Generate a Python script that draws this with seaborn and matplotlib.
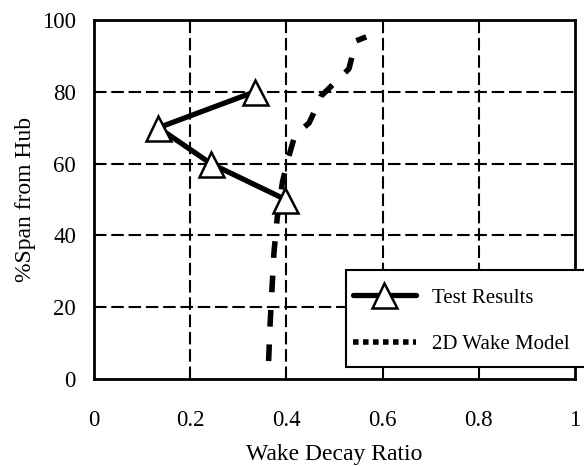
import matplotlib
matplotlib.use("Agg")
import matplotlib.pyplot as plt
import seaborn as sns
import pandas as pd
from matplotlib.lines import Line2D
from matplotlib.patches import Rectangle

# Data
test_x = [0.334, 0.134, 0.243, 0.398]
test_y = [80, 70, 60, 50]
model_x = [0.363, 0.366, 0.370, 0.374, 0.381, 0.392, 0.405, 0.418, 0.447, 0.460, 0.472, 0.530, 0.545, 0.566]
model_y = [5, 15, 25, 35, 45, 55, 62, 68, 71.3, 75, 78.8, 86.4, 94.2, 95.3]
xticks = [0, 0.2, 0.4, 0.6, 0.8, 1]
xticklabels = ["0", "0.2", "0.4", "0.6", "0.8", "1"]
yticks = [0, 20, 40, 60, 80, 100]
labels = ["Test Results", "2D Wake Model"]

sns.set_theme(style="white")
plt.rcParams['font.family'] = ['Liberation Serif', 'DejaVu Serif']

W, H = 584, 466
fig = plt.figure(figsize=(W/100, H/100), dpi=100)
ax = fig.add_axes([94/W, 1-379/H, (575-94)/W, (379-20)/H])

df_t = pd.DataFrame({"x": test_x, "y": test_y})
df_m = pd.DataFrame({"x": model_x, "y": model_y})

sns.lineplot(data=df_m, x="x", y="y", sort=False, ax=ax, color="black",
             lw=4, estimator=None, zorder=3)
ax.lines[-1].set_dashes((3, 3.2))
sns.lineplot(data=df_t, x="x", y="y", sort=False, ax=ax, color="black",
             lw=3.8, marker="^", markersize=18, markerfacecolor="white",
             markeredgecolor="black", markeredgewidth=1.8, estimator=None, zorder=4)

ax.set_xlim(0, 1)
ax.set_ylim(0, 100)
ax.set_xticks(xticks)
ax.set_xticklabels(xticklabels)
ax.set_yticks(yticks)

for v in [0.2, 0.4, 0.6, 0.8]:
    ax.axvline(v, color="black", lw=1.5, dashes=(6, 2.3), zorder=1)
for v in [20, 40, 60, 80]:
    ax.axhline(v, color="black", lw=1.5, dashes=(6, 2.3), zorder=1)

for s in ax.spines.values():
    s.set_visible(True)
    s.set_color("black")
    s.set_linewidth(2)

ax.tick_params(axis="both", direction="in", length=6, width=1.5, colors="black",
               labelsize=16.5, labelcolor="black")
ax.tick_params(axis="x", pad=22)
ax.tick_params(axis="y", pad=13)
ax.tick_params(top=False, right=False)

ax.set_xlabel("Wake Decay Ratio", fontsize=17, color="black", labelpad=10)
ax.set_ylabel("%Span from Hub", fontsize=17, color="black", labelpad=4)

# legend box
fig.patches.append(Rectangle((346/W, 1-367/H), (600-346)/W, (367-270)/H,
                             transform=fig.transFigure, facecolor="white",
                             edgecolor="black", lw=1.5, zorder=9))

handles = [
    Line2D([0], [0], color="black", lw=3.8, marker="^", markersize=18,
           markerfacecolor="white", markeredgecolor="black", markeredgewidth=1.8),
    Line2D([0], [0], color="black", lw=4, linestyle=(0, (1, 0.8))),
]
leg = fig.legend(handles, labels, loc="upper left",
                 bbox_to_anchor=(353/W, 1-288/H), frameon=False,
                 fontsize=15, handlelength=3.0, borderpad=0, labelspacing=1.3,
                 handletextpad=0.8, borderaxespad=0)
for t in leg.get_texts():
    t.set_color("black")
leg.set_zorder(10)

fig.savefig("out.png", dpi=100)
